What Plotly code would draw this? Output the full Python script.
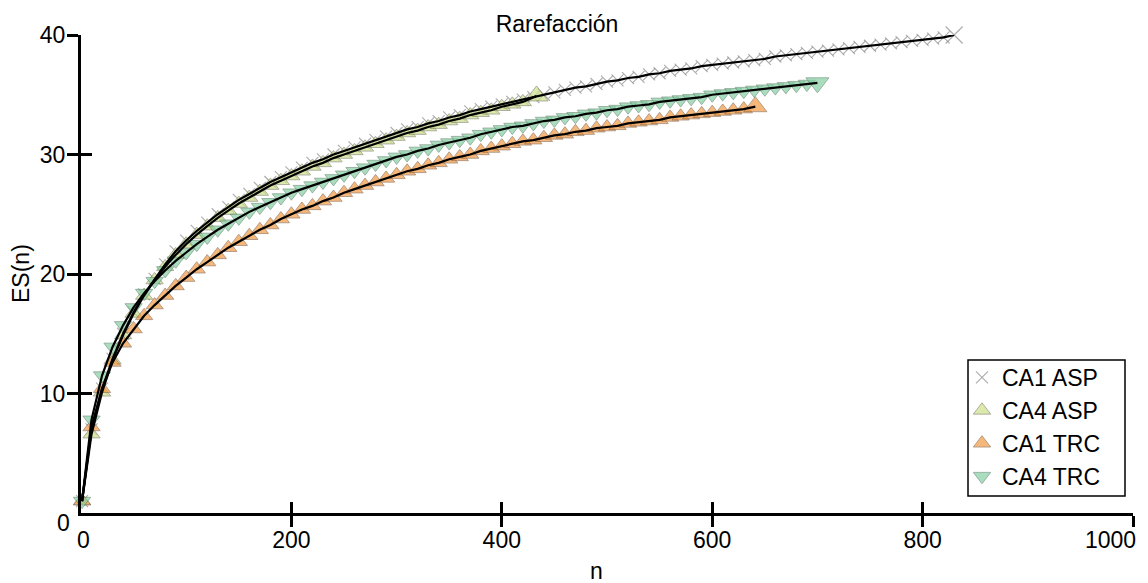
import plotly.graph_objects as go

# ---- data ----
n_ca1_asp = [1, 10, 20, 30, 40, 50, 60, 70, 80, 90, 100, 110, 120, 130, 140, 150, 160, 170, 180, 190,
             200, 210, 220, 230, 240, 250, 260, 270, 280, 290, 300, 310, 320, 330, 340, 350, 360, 370, 380, 390,
             400, 410, 420, 430, 440, 450, 460, 470, 480, 490, 500, 510, 520, 530, 540, 550, 560, 570, 580, 590,
             600, 610, 620, 630, 640, 650, 660, 670, 680, 690, 700, 710, 720, 730, 740, 750, 760, 770, 780, 790,
             800, 810, 820, 830]
es_ca1_asp = [1.0, 7.0, 10.4, 12.9, 15.0, 16.8, 18.3, 19.6, 20.8, 21.9, 22.8, 23.6, 24.3, 25.0, 25.6, 26.2, 26.7, 27.2, 27.7, 28.1,
              28.5, 28.9, 29.3, 29.6, 30.0, 30.3, 30.6, 30.9, 31.2, 31.5, 31.8, 32.1, 32.3, 32.6, 32.8, 33.1, 33.3, 33.6, 33.8, 34.0,
              34.2, 34.4, 34.6, 34.8, 35.0, 35.2, 35.4, 35.6, 35.7, 35.9, 36.1, 36.2, 36.4, 36.5, 36.7, 36.8, 37.0, 37.1, 37.2, 37.4,
              37.5, 37.6, 37.7, 37.8, 37.9, 38.0, 38.2, 38.3, 38.4, 38.5, 38.6, 38.7, 38.8, 38.9, 39.0, 39.1, 39.2, 39.3, 39.4, 39.5,
              39.6, 39.7, 39.8, 40.0]

n_ca4_asp = [1, 10, 20, 30, 40, 50, 60, 70, 80, 90, 100, 110, 120, 130, 140, 150, 160, 170, 180, 190,
             200, 210, 220, 230, 240, 250, 260, 270, 280, 290, 300, 310, 320, 330, 340, 350, 360, 370, 380, 390,
             400, 410, 420, 433]
es_ca4_asp = [1.0, 6.6, 10.1, 12.8, 14.9, 16.7, 18.2, 19.5, 20.6, 21.6, 22.5, 23.3, 24.0, 24.7, 25.3, 25.9, 26.4, 26.9, 27.4, 27.8,
              28.2, 28.6, 29.0, 29.3, 29.7, 30.0, 30.3, 30.6, 30.9, 31.2, 31.5, 31.8, 32.0, 32.3, 32.5, 32.8, 33.0, 33.3, 33.5, 33.7,
              34.0, 34.2, 34.4, 34.9]

n_ca1_trc = [1, 10, 20, 30, 40, 50, 60, 70, 80, 90, 100, 110, 120, 130, 140, 150, 160, 170, 180, 190,
             200, 210, 220, 230, 240, 250, 260, 270, 280, 290, 300, 310, 320, 330, 340, 350, 360, 370, 380, 390,
             400, 410, 420, 430, 440, 450, 460, 470, 480, 490, 500, 510, 520, 530, 540, 550, 560, 570, 580, 590,
             600, 610, 620, 630, 641]
es_ca1_trc = [1.0, 7.2, 10.4, 12.6, 14.2, 15.4, 16.5, 17.4, 18.2, 19.0, 19.7, 20.4, 21.0, 21.6, 22.2, 22.7, 23.2, 23.7, 24.1, 24.6,
              25.0, 25.4, 25.7, 26.1, 26.4, 26.8, 27.1, 27.4, 27.7, 28.0, 28.3, 28.6, 28.8, 29.1, 29.3, 29.6, 29.8, 30.0, 30.3, 30.5,
              30.7, 30.9, 31.1, 31.2, 31.4, 31.6, 31.7, 31.9, 32.0, 32.2, 32.3, 32.4, 32.6, 32.7, 32.8, 32.9, 33.1, 33.2, 33.3, 33.4,
              33.5, 33.6, 33.7, 33.8, 34.0]

n_ca4_trc = [1, 10, 20, 30, 40, 50, 60, 70, 80, 90, 100, 110, 120, 130, 140, 150, 160, 170, 180, 190,
             200, 210, 220, 230, 240, 250, 260, 270, 280, 290, 300, 310, 320, 330, 340, 350, 360, 370, 380, 390,
             400, 410, 420, 430, 440, 450, 460, 470, 480, 490, 500, 510, 520, 530, 540, 550, 560, 570, 580, 590,
             600, 610, 620, 630, 640, 650, 660, 670, 680, 690, 700]
es_ca4_trc = [1.0, 7.8, 11.5, 13.9, 15.7, 17.2, 18.4, 19.4, 20.3, 21.1, 21.8, 22.5, 23.1, 23.7, 24.2, 24.7, 25.2, 25.6, 26.0, 26.4,
              26.8, 27.1, 27.4, 27.7, 28.0, 28.3, 28.6, 28.9, 29.2, 29.5, 29.8, 30.0, 30.3, 30.5, 30.8, 31.0, 31.2, 31.4, 31.7, 31.9,
              32.1, 32.3, 32.4, 32.6, 32.8, 32.9, 33.1, 33.2, 33.4, 33.5, 33.7, 33.8, 34.0, 34.1, 34.2, 34.4, 34.5, 34.6, 34.7, 34.8,
              35.0, 35.1, 35.2, 35.3, 35.4, 35.5, 35.6, 35.7, 35.8, 35.9, 36.0]

series_names = ["CA1 ASP", "CA4 ASP", "CA1 TRC", "CA4 TRC"]
x_ticks = [200, 400, 600, 800, 1000]
x_tick_text = ["200", "400", "600", "800", ""]   # "1000" placed as annotation to stay inside the page
y_ticks = [10, 20, 30, 40]

# ---- layout geometry (figure px; the page adds an 8px body margin) ----
W, H = 1140, 575
L, R, T, B = 73, 15, 27, 70
PW, PH = W - L - R, H - T - B
X0, Y0 = L, H - B  # plot-area left and bottom in figure px

def px(xp):
    return (xp - X0) / PW

def py(yp):
    return (Y0 - yp) / PH

FONT = "Liberation Sans, Arial, sans-serif"
FS = 23

def sizes(n, base, last):
    return [base] * (len(n) - 1) + [last]

fig = go.Figure()

styles = [
    (n_ca1_asp, es_ca1_asp, dict(symbol="x-thin", color="#8a8a8a", line=dict(width=1.1, color="#8a8a8a")), 12, 17),
    (n_ca4_asp, es_ca4_asp, dict(symbol="triangle-up", color="#cde08a", line=dict(width=0.8, color="#74745e")), 15, 20),
    (n_ca1_trc, es_ca1_trc, dict(symbol="triangle-up", color="#f39a44", line=dict(width=0.8, color="#7e5c40")), 15, 20),
    (n_ca4_trc, es_ca4_trc, dict(symbol="triangle-down", color="#86cfa3", line=dict(width=0.8, color="#557f66")), 15, 20),
]

for i, (xs, ys, mk, s0, s1) in enumerate(styles):
    m = dict(mk)
    m["size"] = sizes(xs, s0, s1)
    fig.add_trace(go.Scatter(x=xs, y=ys, mode="markers", name=series_names[i], marker=m,
                             cliponaxis=False, legendgroup=f"g{i}"))

# black connecting lines drawn on overlay axes (on top of markers)
for i, (xs, ys, mk, s0, s1) in enumerate(styles):
    fig.add_trace(go.Scatter(x=xs, y=ys, mode="lines", line=dict(color="black", width=2.2),
                             showlegend=False, xaxis="x2", yaxis="y2", cliponaxis=False,
                             hoverinfo="skip"))

axis_common = dict(showgrid=False, zeroline=False, tickcolor="black", ticklen=11, tickwidth=3,
                   automargin=False)

fig.update_layout(
    width=W, height=H,
    paper_bgcolor="white", plot_bgcolor="white",
    margin=dict(l=L, r=R, t=T, b=B),
    font=dict(family=FONT, size=FS, color="black"),
    title=dict(text="Rarefacción", x=549 / W, xref="container", xanchor="center",
               y=1 - 16 / H, yref="container", yanchor="middle",
               font=dict(family=FONT, size=FS, color="black")),
    xaxis=dict(range=[0, 1000], tickvals=x_ticks, ticktext=x_tick_text, ticks="outside", showline=True,
               linecolor="black", linewidth=3, tickfont=dict(size=FS),
               ticklabelstandoff=-7, **axis_common),
    yaxis=dict(range=[0, 40], tickvals=y_ticks, ticks="outside", showline=True,
               linecolor="black", linewidth=3, tickfont=dict(size=FS),
               ticklabelstandoff=-3, **axis_common),
    xaxis2=dict(range=[0, 1000], tickvals=x_ticks, ticks="inside", overlaying="x", anchor="y2",
                showline=False, showticklabels=False, **axis_common),
    yaxis2=dict(range=[0, 40], tickvals=y_ticks, ticks="inside", overlaying="y", anchor="x2",
                showline=False, showticklabels=False, **axis_common),
    legend=dict(x=px(954), y=py(348), xanchor="left", yanchor="top",
                borderwidth=0, bgcolor="rgba(255,255,255,0)",
                font=dict(family=FONT, size=FS, color="black"),
                tracegroupgap=0, itemwidth=30, traceorder="grouped"),
    showlegend=True,
)

# legend frame
fig.add_shape(type="rect", xref="paper", yref="paper",
              x0=px(960), x1=px(1117), y0=py(488), y1=py(352),
              line=dict(color="black", width=1.5), fillcolor="rgba(0,0,0,0)", layer="above")

# zero labels, end label and axis titles
fig.add_annotation(text="0", xref="paper", yref="paper", x=px(75), y=py(532),
                   showarrow=False, xanchor="center", yanchor="middle", font=dict(size=FS))
fig.add_annotation(text="1000", xref="paper", yref="paper", x=px(1130), y=py(532),
                   showarrow=False, xanchor="right", yanchor="middle", font=dict(size=FS))
fig.add_annotation(text="0", xref="paper", yref="paper", x=px(55), y=py(515),
                   showarrow=False, xanchor="center", yanchor="middle", font=dict(size=FS))
fig.add_annotation(text="n", xref="paper", yref="paper", x=px(588), y=py(563),
                   showarrow=False, xanchor="center", yanchor="middle", font=dict(size=FS))
fig.add_annotation(text="ES(n)", xref="paper", yref="paper", x=px(13), y=py(266),
                   textangle=-90, showarrow=False, xanchor="center", yanchor="middle",
                   font=dict(size=FS))

fig.write_html("out.html")
